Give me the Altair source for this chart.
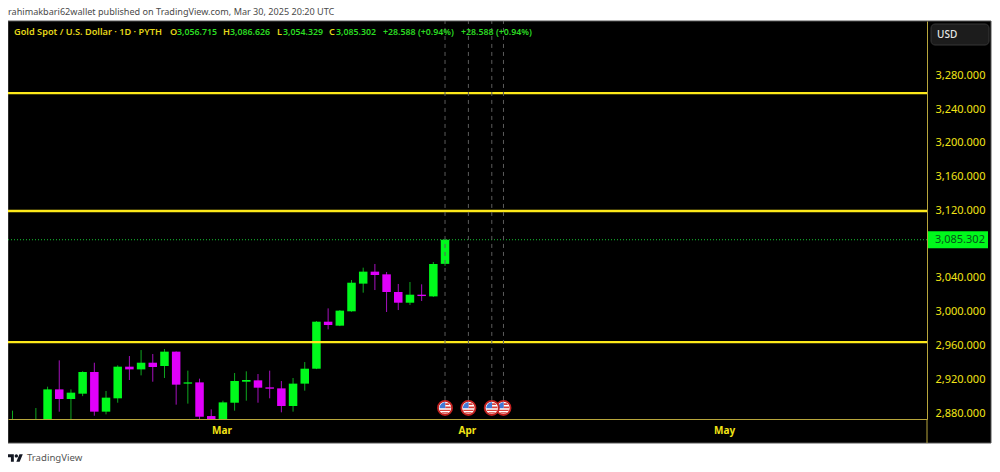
import altair as alt
import pandas as pd

# ---------- chart values ----------
day_index = list(range(38))
opens = [2860, 2855, 2862, 2868, 2908, 2896.6, 2902.9, 2928.6, 2881.6, 2897.4, 2934.9, 2931.7, 2939.6, 2935.7,
         2952.7, 2914.8, 2916.3, 2876.4, 2870, 2892.2, 2917.1, 2918.7, 2910.4, 2909.2, 2888.3, 2914.8, 2932.5,
         2988.2, 2983.5, 3000.5, 3033.3, 3047.5, 3044.3, 3023.4, 3010.7, 3020.2, 3018.2, 3056.715]
highs = [2882.8, 2870, 2885.9, 2911.2, 2942.4, 2908, 2929.5, 2939.6, 2906.1, 2936.5, 2947.5, 2954.6, 2949.9, 2955.8,
         2953, 2930.2, 2920.7, 2884.3, 2894.6, 2927.4, 2929.4, 2926.2, 2930.2, 2917.9, 2921.5, 2940.4, 2989,
         3004, 3002, 3037.6, 3052.2, 3056.6, 3047.1, 3032.9, 3035.2, 3032.5, 3058.9, 3086.626]
lows = [2855, 2850, 2860, 2860, 2881.6, 2870, 2900, 2876.8, 2878.4, 2892.2, 2919.1, 2924.6, 2917.1, 2921.5,
        2889.9, 2891.1, 2870, 2865, 2868, 2882.8, 2894.6, 2892.2, 2897.4, 2880.8, 2881.6, 2906.5, 2932,
        2979.1, 2983, 3000, 3022.6, 3025.7, 2999.7, 3002, 3008, 3012.7, 3017.5, 3054.329]
closes = [2868, 2862, 2870, 2908, 2896.6, 2904.1, 2928.6, 2881.6, 2898.2, 2934.9, 2931.7, 2939.6, 2934.5, 2952.7,
          2913.6, 2916.3, 2875.6, 2868, 2892.6, 2917.9, 2919.1, 2910, 2908.8, 2888.3, 2914.8, 2932.5, 2988.2,
          2984.3, 3001.3, 3034.4, 3047.5, 3043.5, 3023.4, 3010.7, 3020.2, 3018.6, 3056.6, 3085.302]
level_prices = [3259, 3119.3, 2964]
last_price = [3085.302]
event_days = [37, 39, 41, 42]
event_price = [2886]
price_ticks = [2880, 2920, 2960, 3000, 3040, 3120, 3160, 3200, 3240, 3280]
month_days = [18, 39, 61]
month_names = ["Mar", "Apr", "May"]
published = "rahimakbari62wallet published on TradingView.com, Mar 30, 2025 20:20 UTC"
header = [
    ("Gold Spot / U.S. Dollar · 1D · PYTH", 6, "y"),
    ("O", 162, "y"), ("3,056.715", 169, "g"),
    ("H", 215, "y"), ("3,086.626", 222, "g"),
    ("L", 269, "y"), ("3,054.329", 275, "g"),
    ("C", 321, "y"), ("3,085.302", 328, "g"),
    ("+28.588 (+0.94%)", 375, "g"),
    ("+28.588 (+0.94%)", 453, "g"),
]

# ---------- styles ----------
YEL = "#f2e416"
LINE_YEL = "#fde91a"
GREEN = "#00f91c"
MAGENTA = "#e000fa"
WICK_G = "#0ea81f"
WICK_M = "#a510bd"
BORDER = "#b8a63c"
FONT = "Noto Sans"
W, H = 919, 398

df = pd.DataFrame(dict(i=day_index, o=opens, h=highs, l=lows, c=closes))
df["top"] = df[["o", "c"]].max(axis=1)
df["bot"] = df[["o", "c"]].min(axis=1)
df["dir"] = ["up" if c >= o else "down" for o, c in zip(opens, closes)]

label_expr = "''"
for d, n in zip(month_days, month_names):
    label_expr = f"datum.value === {d} ? '{n}' : ({label_expr})"

x_axis = alt.Axis(values=month_days, labelExpr=label_expr, title=None, grid=False, ticks=False,
                  domainColor=BORDER, domainWidth=1, labelColor=YEL, labelFont=FONT, labelFontSize=10,
                  labelFontWeight="bold", labelPadding=6, labelOffset=-1.5, zindex=1, labelFlush=False)
y_axis = alt.Axis(values=price_ticks, format=",.3f", title=None, orient="right", grid=False, ticks=False,
                  domainColor=BORDER, domainWidth=1, labelColor=YEL, labelFont=FONT, labelFontSize=11,
                  labelPadding=8, zindex=1, labelFlush=False, labelOverlap=False)
x_scale = alt.Scale(domain=[-0.385, 78.23], nice=False, zero=False, padding=0)
y_scale = alt.Scale(domain=[2872.9, 3344.5], nice=False, zero=False, padding=0)
X = alt.X("i:Q", scale=x_scale, axis=x_axis)
Y = lambda f: alt.Y(f, type="quantitative", scale=y_scale, axis=y_axis)
one = alt.Data(values=[{"a": 1}])


def pinned(mark, x, y, **enc):
    return alt.Chart(one).mark_text(**mark).encode(x=alt.value(x), y=alt.value(y), **enc)


layers = []
# dark panel behind plot and axes
layers.append(alt.Chart(one).mark_rect(color="#000000", stroke="#555555", strokeWidth=1).encode(
    x=alt.value(0), x2=alt.value(983), y=alt.value(0), y2=alt.value(422)))
layers.append(alt.Chart(one).mark_rule(color=BORDER, strokeWidth=1).encode(
    x=alt.value(W), y=alt.value(H), y2=alt.value(422)))

# candles
wick_up = df[df["dir"] == "up"]
wick_down = df[df["dir"] == "down"]
for part, wick, body in ((wick_up, WICK_G, GREEN), (wick_down, WICK_M, MAGENTA)):
    layers.append(alt.Chart(part).mark_rule(clip=True, strokeWidth=1, color=wick).encode(
        x=X, y=Y("l"), y2="h:Q"))
    layers.append(alt.Chart(part).mark_bar(clip=True, size=8.5, color=body).encode(
        x=X, y=Y("bot"), y2="top:Q"))

# horizontal levels
layers.append(alt.Chart(pd.DataFrame({"p": level_prices})).mark_rule(color=LINE_YEL, strokeWidth=2.4).encode(y=Y("p")))
layers.append(alt.Chart(pd.DataFrame({"p": last_price})).mark_rule(color="#14c832", strokeWidth=1, strokeDash=[1, 2]).encode(y=Y("p")))

# event lines
ev = pd.DataFrame({"i": event_days, "p": event_price * len(event_days)})
layers.append(alt.Chart(ev).mark_rule(color="#5c5c5c", strokeWidth=1, strokeDash=[4, 4]).encode(
    x=X, y=Y("p"), y2=alt.value(0)))

# flags (drawn right to left so that the left one sits on top)
CANTON = "M-0.95,0.05A1,1 0 0 1 0.05,-1L0.05,0.05Z"
STRIPES = ("M0.05,-0.8L0.6,-0.8L0.8,-0.5L0.05,-0.5Z"
           "M0.05,-0.25L0.97,-0.25L1,0.05L0.05,0.05Z"
           "M-0.95,0.3L0.95,0.3L0.85,0.55L-0.85,0.55Z"
           "M-0.65,0.75L0.65,0.75L0.35,0.95L-0.35,0.95Z")
for d in reversed(event_days):
    f = pd.DataFrame({"i": [d], "p": event_price})
    layers.append(alt.Chart(f).mark_point(shape="circle", filled=True, fill="#ffffff", stroke="#c2201f", strokeWidth=1.8,
                                          opacity=1, size=200).encode(x=X, y=Y("p")))
    layers.append(alt.Chart(f).mark_point(shape=CANTON, filled=True, fill="#3f78d6", strokeWidth=0, opacity=1,
                                          size=132).encode(x=X, y=Y("p")))
    layers.append(alt.Chart(f).mark_point(shape=STRIPES, filled=True, fill="#d8403a", strokeWidth=0, opacity=1,
                                          size=132).encode(x=X, y=Y("p")))

# last price tag
lp = pd.DataFrame({"p": last_price})
layers.append(alt.Chart(lp).mark_rect(color="#00f91c", width=60, height=17).encode(x=alt.value(W + 31), y=Y("p")))
layers.append(alt.Chart(lp).mark_text(font=FONT, fontSize=11, color="#07551a", align="left", baseline="middle").encode(
    x=alt.value(W + 8), y=Y("p"), text=alt.Text("p:Q", format=",.3f")))

# currency button
layers.append(alt.Chart(one).mark_rect(color="#1c1c1c", stroke="#363636", cornerRadius=4).encode(
    x=alt.value(W + 4), x2=alt.value(W + 62), y=alt.value(3), y2=alt.value(24)))
layers.append(pinned(dict(text="USD", font=FONT, fontSize=10, fontWeight=500, color="#e8e8e8", align="left", baseline="middle"),
                     W + 10, 14))

# header strip
for text, x, kind in header:
    layers.append(pinned(dict(text=text, font=FONT, fontSize=9.2 if kind == "y" else 8.8, fontWeight=600, align="left",
                              baseline="middle", color="#e4d61a" if kind == "y" else "#2bdc22"), x, 11))

# white margin texts
layers.append(pinned(dict(text=published, font=FONT, fontSize=9.1, color="#4a4a4a", align="left", baseline="middle"), 0, -9))
LOGO = ("M-0.222,0.5L-0.611,0.5L-0.611,-0.111L-1,-0.111L-1,-0.5L-0.222,-0.5Z"
        "M0.556,0.5L0.111,0.5L0.528,-0.5L0.972,-0.5Z"
        "M-0.111,-0.278a0.222,0.222 0 1,0 0.444,0a0.222,0.222 0 1,0 -0.444,0Z")
layers.append(alt.Chart(one).mark_point(shape=LOGO, filled=True, fill="#131722", strokeWidth=0, opacity=1, size=225).encode(
    x=alt.value(7.5), y=alt.value(437)))
layers.append(pinned(dict(text="TradingView", font=FONT, fontSize=9.6, color="#555555", align="left", baseline="middle"), 19, 437))

chart = alt.layer(*layers).properties(
    width=W, height=H,
    padding={"left": 0, "top": 13, "right": 65, "bottom": 45},
    autosize=alt.AutoSizeParams(type="none"),
    background="#ffffff",
).configure_view(stroke=None)

chart.save("out.html", embed_options={"renderer": "svg", "actions": False})
